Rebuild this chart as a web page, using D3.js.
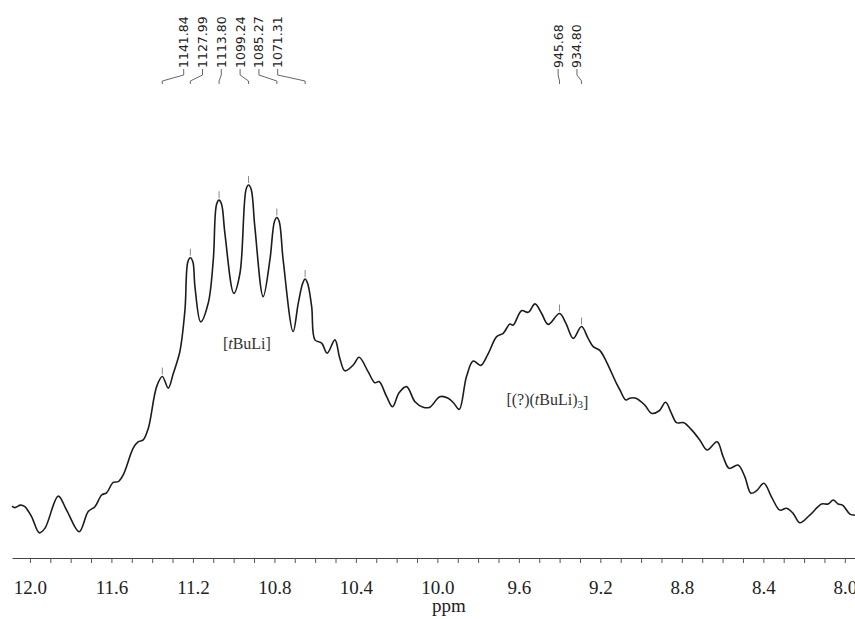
<!DOCTYPE html>
<html>
<head>
<meta charset="utf-8">
<script src="https://cdn.jsdelivr.net/npm/d3@7"></script>
<style>
  html, body { margin: 0; padding: 0; background: #fff; }
  svg { display: block; }
</style>
</head>
<body>
<svg id="chart" width="855" height="619"></svg>
<script>
// Spectrometer frequency (MHz) used to convert peak positions from Hz to ppm
const spectrometerMHz = 100.6;

// Picked peaks (Hz) and their heights
const peakHz = [1141.84, 1127.99, 1113.80, 1099.24, 1085.27, 1071.31, 945.68, 934.80];
const peakIntensity = [45.4, 78.4, 94.4, 98.6, 89.6, 72.5, 62.9, 59.3];

// Trace between the picked peaks: chemical shift (ppm) and intensity (a.u.)
const tracePpm = [
  12.088, 12.074, 12.046, 12.025, 11.992, 11.954, 11.926, 11.861, 11.820, 11.758,
  11.714, 11.681, 11.648, 11.624, 11.591, 11.567, 11.542, 11.493, 11.468, 11.444,
  11.419, 11.378, 11.321, 11.297, 11.275, 11.264, 11.239, 11.225, 11.200, 11.190,
  11.162, 11.125, 11.100, 11.084, 11.059, 11.043, 10.999, 10.969, 10.939, 10.914,
  10.896, 10.855, 10.822, 10.800, 10.776, 10.757, 10.708, 10.683, 10.661, 10.637,
  10.617, 10.601, 10.568, 10.541, 10.503, 10.479, 10.454, 10.413, 10.384, 10.340,
  10.307, 10.286, 10.249, 10.220, 10.188, 10.151, 10.110, 10.070, 10.037, 9.988,
  9.947, 9.919, 9.893, 9.857, 9.824, 9.787, 9.751, 9.709, 9.677, 9.644,
  9.628, 9.587, 9.554, 9.521, 9.489, 9.456, 9.369, 9.333, 9.260, 9.235,
  9.202, 9.170, 9.121, 9.104, 9.075, 9.055, 9.026, 8.982, 8.949, 8.911,
  8.880, 8.851, 8.826, 8.790, 8.752, 8.712, 8.676, 8.627, 8.597, 8.568,
  8.524, 8.491, 8.461, 8.433, 8.397, 8.360, 8.319, 8.286, 8.254, 8.221,
  8.172, 8.114, 8.082, 8.057, 8.033, 8.011, 7.975, 7.951
];
const traceIntensity = [
  9.4, 9.0, 9.7, 9.25, 6.5, 2.0, 3.3, 12.2, 8.3, 2.3,
  7.9, 9.25, 12.5, 13.1, 16.0, 16.2, 18.1, 25.5, 27.3, 27.8,
  31.0, 42.6, 42.2, 46.1, 50.0, 52.3, 63.9, 77.2, 77.2, 70.4,
  60.6, 65.75, 77.8, 93.2, 93.2, 85.2, 68.5, 74.1, 97.4, 97.4,
  87.0, 67.6, 77.8, 88.4, 88.4, 77.8, 57.9, 65.75, 71.3, 71.3,
  64.8, 55.6, 54.7, 51.9, 55.6, 50.5, 47.0, 48.6, 50.75, 46.75,
  43.7, 44.0, 39.8, 37.0, 40.9, 42.6, 38.4, 36.9, 36.9, 39.8,
  39.4, 38.0, 36.3, 45.4, 49.7, 48.5, 51.7, 56.5, 57.4, 60.0,
  59.7, 63.7, 63.25, 65.6, 63.0, 59.9, 60.2, 56.0, 56.0, 53.7,
  52.6, 49.5, 43.5, 41.7, 38.9, 39.4, 39.4, 37.5, 35.2, 35.9,
  38.25, 35.2, 32.6, 32.6, 30.6, 27.8, 25.0, 27.3, 23.1, 19.9,
  20.8, 17.6, 13.0, 13.7, 15.75, 12.0, 8.3, 8.8, 7.4, 4.8,
  6.9, 10.0, 10.0, 11.1, 10.0, 9.7, 7.2, 6.9
];

// Axis ticks (ppm)
const minorTicks = d3.range(120, 79, -1).map(v => v / 10);
const labelledTicks = [12.0, 11.6, 11.2, 10.8, 10.4, 10.0, 9.6, 9.2, 8.8, 8.4, 8.0];

// Species annotations
const annotations = [
  { ppm: 10.935, level: 53.0, parts: [["[", ""], ["t", "italic"], ["BuLi]", ""]] },
  { ppm: 9.46,  level: 37.5, parts: [["[(?)(", ""], ["t", "italic"], ["BuLi)", ""], ["3", "sub"], ["]", ""]] }
];

const serif = "'Liberation Serif', 'Times New Roman', serif";
const svg = d3.select("#chart");
const W = 855, H = 619;
svg.append("rect").attr("width", W).attr("height", H).attr("fill", "#fff");

const x = d3.scaleLinear().domain([12.088, 7.95]).range([12, 855]);
const y = d3.scaleLinear().domain([0, 100]).range([540, 180]);

const peaks = peakHz.map((hz, i) => ({ hz, ppm: hz / spectrometerMHz, v: peakIntensity[i] }));
const points = tracePpm.map((p, i) => ({ ppm: p, v: traceIntensity[i] }))
  .concat(peaks.map(p => ({ ppm: p.ppm, v: p.v })))
  .sort((a, b) => b.ppm - a.ppm);

// Axis
const axisY = 558;
const axis = d3.axisBottom(x)
  .tickValues(minorTicks)
  .tickSize(5)
  .tickSizeOuter(0)
  .tickFormat(d => labelledTicks.some(t => Math.abs(t - d) < 1e-6) ? d3.format(".1f")(d) : "");
const gAxis = svg.append("g").attr("transform", `translate(0,${axisY})`).call(axis)
  .attr("font-family", serif).attr("font-size", 19);
gAxis.select(".domain").attr("stroke", "#444").attr("stroke-width", 1);
gAxis.selectAll(".tick line").attr("stroke", "#555");
gAxis.selectAll(".tick text")
  .attr("y", 36).attr("dy", 0)
  .style("font-family", serif)
  .style("font-size", "19px")
  .attr("fill", "#222");

svg.append("text")
  .attr("x", 449).attr("y", 612)
  .attr("text-anchor", "middle")
  .style("font-family", serif)
  .style("font-size", "19px")
  .attr("fill", "#222")
  .text("ppm");

// Spectrum trace
const line = d3.line()
  .x(d => x(d.ppm))
  .y(d => y(d.v))
  .curve(d3.curveCatmullRom.alpha(0.5));

svg.append("path")
  .datum(points)
  .attr("d", line)
  .attr("fill", "none")
  .attr("stroke", "#1c1c1c")
  .attr("stroke-width", 1.6)
  .attr("stroke-linejoin", "round");

// Peak markers
svg.append("g").selectAll("line")
  .data(peaks)
  .join("line")
  .attr("x1", d => x(d.ppm)).attr("x2", d => x(d.ppm))
  .attr("y1", d => y(d.v) - 2).attr("y2", d => y(d.v) - 9)
  .attr("stroke", "#888").attr("stroke-width", 1);

// Peak labels at the top: neighbouring peaks form a group whose labels sit side by side
const labelPitch = 18.8;
const groupGap = 35;
const groups = [];
peaks.forEach(p => {
  const last = groups[groups.length - 1];
  if (last && x(p.ppm) - x(last[last.length - 1].ppm) < groupGap) last.push(p);
  else groups.push([p]);
});
const labelled = [];
groups.forEach(g => {
  const centre = d3.mean(g, p => x(p.ppm)) - 3;
  g.forEach((p, i) => {
    labelled.push({ ...p, px: x(p.ppm), lx: centre + (i - (g.length - 1) / 2) * labelPitch });
  });
});

const gLab = svg.append("g");
gLab.selectAll("path")
  .data(labelled)
  .join("path")
  .attr("d", d => `M${d.lx},69 L${d.lx},75 L${d.px},81 L${d.px},84`)
  .attr("fill", "none")
  .attr("stroke", "#555")
  .attr("stroke-width", 0.9);

gLab.selectAll("text")
  .data(labelled)
  .join("text")
  .attr("transform", d => `translate(${d.lx},68) rotate(-90)`)
  .attr("dy", "0.36em")
  .attr("text-anchor", "start")
  .style("font-family", "'DejaVu Sans', Verdana, sans-serif")
  .style("font-size", "12.5px")
  .attr("fill", "#222")
  .text(d => d3.format(".2f")(d.hz));

// Species annotations
annotations.forEach(a => {
  const t = svg.append("text")
    .attr("x", x(a.ppm)).attr("y", y(a.level))
    .attr("text-anchor", "middle")
    .style("font-family", serif)
    .style("font-size", "16px")
    .attr("fill", "#333");
  a.parts.forEach(([s, style]) => {
    const ts = t.append("tspan").text(s);
    if (style === "italic") ts.style("font-style", "italic");
    if (style === "sub") ts.style("font-size", "11px").attr("dy", "0.25em");
  });
});
</script>
</body>
</html>
